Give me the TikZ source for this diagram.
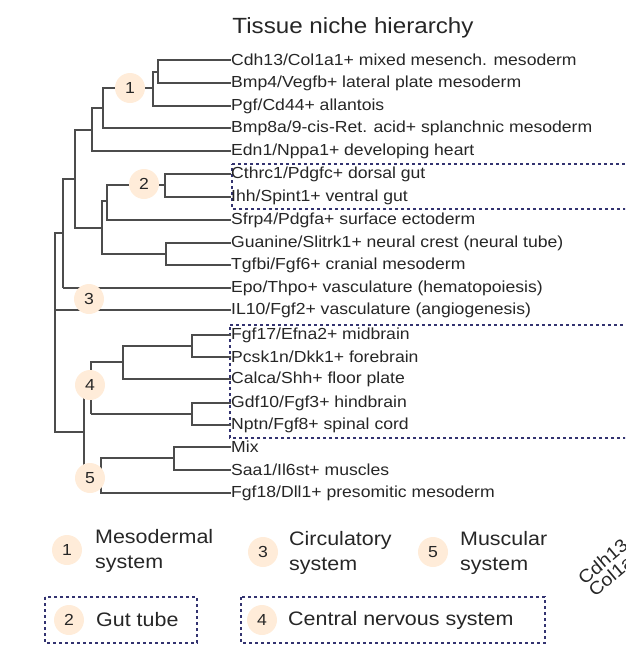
\documentclass[tikz,border=0pt]{standalone}
\usepackage{fontspec}
\setmainfont[FakeStretch=1.1]{Liberation Sans}
\begin{document}
\begin{tikzpicture}[x=1pt,y=-1pt,
  br/.style={draw=black!70,line width=1.5pt},
  lf/.style={anchor=west,inner sep=0pt,font=\fontsize{16}{18}\selectfont,text=black!85},
  cl/.style={circle,fill=orange!15,minimum size=30pt,inner sep=0pt,font=\fontsize{16}{18}\selectfont,text=black!85},
  bx/.style={draw=blue!30!black!80,dashed,line width=1.2pt},
  lg/.style={anchor=west,align=left,inner sep=0pt,font=\fontsize{19.5}{25}\selectfont,text=black!85}]
\useasboundingbox (0,0) rectangle (625,670);
\clip (0,0) rectangle (625,670);
\node[font=\fontsize{22}{26}\selectfont,text=black!85] (title) at (353,28) {Tissue niche hierarchy};
% dashed boxes (behind)
\draw[bx] (232,164) -- (632,164) (632,209) -- (232,209) -- (232,164);
\draw[bx] (230,325) -- (632,325) (632,438) -- (230,438) -- (230,325);
% leaves
\foreach \n/\y/\t in {l1/60/Cdh13\slash Col1a1+ mixed mesench. mesoderm,
 l2/83/Bmp4\slash Vegfb+ lateral plate mesoderm,
 l3/106/Pgf\slash Cd44+ allantois,
 l4/128/Bmp8a\slash 9-cis-Ret. acid+ splanchnic mesoderm,
 l5/151/Edn1\slash Nppa1+ developing heart,
 l6/174/Cthrc1\slash Pdgfc+ dorsal gut,
 l7/197/Ihh\slash Spint1+ ventral gut,
 l8/220/Sfrp4\slash Pdgfa+ surface ectoderm,
 l9/243/Guanine\slash Slitrk1+ neural crest (neural tube),
 l10/265/Tgfbi\slash Fgf6+ cranial mesoderm,
 l11/288/Epo\slash Thpo+ vasculature (hematopoiesis),
 l12/310/IL10\slash Fgf2+ vasculature (angiogenesis),
 l13/335/Fgf17\slash Efna2+ midbrain,
 l14/357/Pcsk1n\slash Dkk1+ forebrain,
 l15/379/Calca\slash Shh+ floor plate,
 l16/403/Gdf10\slash Fgf3+ hindbrain,
 l17/425/Nptn\slash Fgf8+ spinal cord,
 l18/447/Mix,
 l19/470/Saa1\slash Il6st+ muscles,
 l20/493/Fgf18\slash Dll1+ presomitic mesoderm}
 \node[lf] (\n) at (231,\y) {\t};
% branches
\draw[br] (l1.west) -- (158,60) |- (l2.west);
\draw[br] (158,72) -- (153,72) |- (l3.west);
\draw[br] (153,88) -- (103,88) |- (l4.west);
\draw[br] (103,108) -- (92,108) |- (l5.west);
\draw[br] (l6.west) -- (165,174) |- (l7.west);
\draw[br] (165,185) -- (107,185) |- (l8.west);
\draw[br] (l9.west) -- (166,243) |- (l10.west);
\draw[br] (107,201) -- (102,201) |- (166,254);
\draw[br] (92,130) -- (75,130) |- (102,228);
\draw[br] (75,179) -- (63,179) -- (63,288);
\draw[br] (63,288) -- (l11.west);
\draw[br] (63,233) -- (55,233) -- (55,432) -- (84,432);
\draw[br] (55,310) -- (l12.west);
\draw[br] (l13.west) -- (192,335) |- (l14.west);
\draw[br] (192,346) -- (123,346) |- (l15.west);
\draw[br] (123,362) -- (91,362) -- (91,414);
\draw[br] (l16.west) -- (192,403) |- (l17.west);
\draw[br] (192,414) -- (91,414);
\draw[br] (84,390) -- (84,470);
\draw[br] (l18.west) -- (174,447) |- (l19.west);
\draw[br] (174,458) -- (101,458) -- (101,493) -- (l20.west);
% circles on top
\node[cl] (c1) at (130,88) {1};
\node[cl] (c2) at (144,184) {2};
\node[cl] (c3) at (89,299) {3};
\node[cl] (c4) at (90,385) {4};
\node[cl] (c5) at (90,478) {5};
% legend
\node[cl] (g1) at (67,550) {1};
\node[lg] (t1) at (95,551) {Mesodermal\\system};
\node[cl] (g3) at (263,552) {3};
\node[lg] (t3) at (289,553) {Circulatory\\system};
\node[cl] (g5) at (433,552) {5};
\node[lg] (t5) at (460,553) {Muscular\\system};
\draw[bx] (45,597) rectangle (197,643);
\node[cl] (g2) at (69,620) {2};
\node[lg] (t2) at (96,620) {Gut tube};
\draw[bx] (241,597) rectangle (545,643);
\node[cl] (g4) at (262,620) {4};
\node[lg] (t4) at (288,620) {Central nervous system};
\node[inner sep=0pt,anchor=south west,font=\fontsize{18}{17}\selectfont,text=black!85] (rot) at (576,598) {\rotatebox{40}{\shortstack[l]{Cdh13\\Col1a1}}};
\end{tikzpicture}
\end{document}
